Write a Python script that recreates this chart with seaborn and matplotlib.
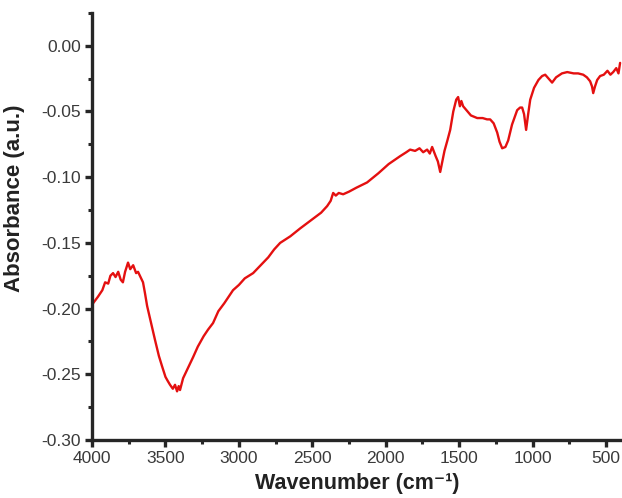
import matplotlib
matplotlib.use("Agg")
import matplotlib.pyplot as plt
import seaborn as sns
import pandas as pd
from matplotlib.ticker import MultipleLocator

# FTIR spectrum
wavenumber = [4000, 3960, 3930, 3911, 3890, 3875, 3857, 3840, 3822, 3805, 3790, 3775,
              3755, 3740, 3720, 3700, 3687, 3670, 3653, 3640, 3625, 3600, 3571, 3545,
              3523, 3500, 3485, 3469, 3450, 3435, 3421, 3410, 3401, 3380, 3350, 3312,
              3280, 3240, 3210, 3176, 3140, 3100, 3070, 3040, 3000, 2960, 2903, 2860,
              2800, 2760, 2719, 2650, 2583, 2500, 2440, 2399, 2375, 2358, 2340, 2320,
              2290, 2250, 2200, 2127, 2050, 1980, 1902, 1860, 1834, 1800, 1770, 1745,
              1718, 1700, 1684, 1660, 1645, 1629, 1600, 1580, 1561, 1540, 1520, 1507,
              1495, 1485, 1473, 1450, 1420, 1377, 1340, 1310, 1289, 1265, 1241, 1225,
              1207, 1185, 1166, 1140, 1105, 1085, 1071, 1058, 1044, 1030, 1016, 990,
              960, 935, 914, 890, 867, 840, 800, 764, 720, 690, 655, 630, 608, 595,
              587, 575, 560, 540, 515, 490, 470, 451, 430, 415, 404]
absorbance = [-0.197, -0.191, -0.186, -0.180, -0.181, -0.175, -0.173, -0.176, -0.172, -0.178, -0.180, -0.172,
              -0.165, -0.170, -0.167, -0.173, -0.172, -0.176, -0.180, -0.188, -0.198, -0.210, -0.224, -0.236,
              -0.244, -0.252, -0.255, -0.258, -0.261, -0.258, -0.263, -0.259, -0.262, -0.253, -0.246, -0.237,
              -0.229, -0.221, -0.216, -0.211, -0.202, -0.196, -0.191, -0.186, -0.182, -0.177, -0.173, -0.168,
              -0.161, -0.155, -0.150, -0.145, -0.139, -0.132, -0.127, -0.122, -0.118, -0.112, -0.114, -0.112,
              -0.113, -0.111, -0.108, -0.104, -0.097, -0.090, -0.084, -0.081, -0.079, -0.080, -0.078, -0.081,
              -0.079, -0.082, -0.077, -0.084, -0.088, -0.096, -0.080, -0.072, -0.064, -0.050, -0.041, -0.039,
              -0.046, -0.042, -0.046, -0.049, -0.053, -0.055, -0.055, -0.056, -0.056, -0.059, -0.066, -0.073,
              -0.078, -0.077, -0.072, -0.060, -0.049, -0.047, -0.047, -0.052, -0.064, -0.052, -0.041, -0.032,
              -0.026, -0.023, -0.022, -0.025, -0.028, -0.024, -0.021, -0.020, -0.021, -0.021, -0.022, -0.024,
              -0.027, -0.031, -0.036, -0.031, -0.026, -0.023, -0.022, -0.019, -0.022, -0.020, -0.017, -0.021, -0.013]

df = pd.DataFrame({"Wavenumber": wavenumber, "Absorbance": absorbance})

sns.set_style("ticks")
plt.rcParams["font.family"] = ["Liberation Sans", "DejaVu Sans"]

fig = plt.figure(figsize=(6.22, 4.98), dpi=100)
ax = fig.add_axes([0.148, 0.1165, 0.852, 0.8575])

sns.lineplot(data=df, x="Wavenumber", y="Absorbance", sort=False,
             color="#e41010", linewidth=1.7, ax=ax)

ax.set_xlim(4000, 391)
ax.set_ylim(-0.30, 0.025)
ax.xaxis.set_major_locator(MultipleLocator(500))
ax.xaxis.set_minor_locator(MultipleLocator(250))
ax.yaxis.set_major_locator(MultipleLocator(0.05))
ax.yaxis.set_minor_locator(MultipleLocator(0.025))
ax.yaxis.set_major_formatter(plt.FuncFormatter(lambda v, p: f"{v:.2f}".replace("\u2212", "-")))

for s in ["top", "right"]:
    ax.spines[s].set_visible(False)
for s in ["left", "bottom"]:
    ax.spines[s].set_linewidth(2.4)

ax.tick_params(which="major", direction="out", length=5, width=2.4,
               labelsize=12.5, labelcolor="#3a3a3a", pad=3)
ax.tick_params(which="minor", direction="out", length=3, width=2.2)

ax.set_xlabel("Wavenumber (cm\u207b\u00b9)", fontsize=15.5, fontweight="bold", color="#222222")
ax.set_ylabel("Absorbance (a.u.)", fontsize=16, fontweight="bold", color="#222222")
ax.xaxis.set_label_coords(0.5, -0.078)
ax.yaxis.set_label_coords(-0.126, 0.567)

fig.savefig("out.png", dpi=100)
